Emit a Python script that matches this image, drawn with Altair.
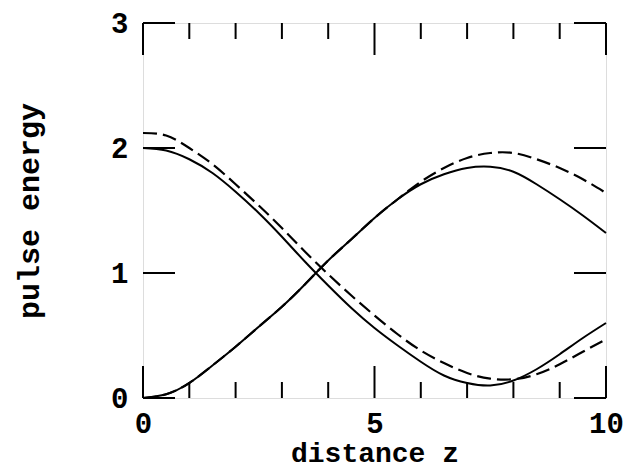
import altair as alt
import pandas as pd

# distance z
z = [0, 0.5, 1, 1.5, 2, 2.5, 3, 3.5, 4, 4.5, 5, 5.5, 6, 6.5, 7, 7.5, 8, 8.5, 9, 9.5, 10]
# solid curves
solid_fall = [2.00, 1.98, 1.91, 1.80, 1.65, 1.48, 1.29, 1.09, 0.90, 0.72, 0.56, 0.42, 0.29, 0.18, 0.12, 0.10, 0.14, 0.23, 0.35, 0.48, 0.60]
solid_rise = [0.00, 0.03, 0.12, 0.26, 0.41, 0.57, 0.73, 0.91, 1.10, 1.27, 1.44, 1.59, 1.71, 1.79, 1.84, 1.85, 1.81, 1.71, 1.59, 1.46, 1.32]
# dashed curves
dash_fall = [2.12, 2.10, 2.00, 1.87, 1.71, 1.54, 1.36, 1.17, 0.99, 0.82, 0.66, 0.51, 0.38, 0.28, 0.20, 0.155, 0.15, 0.19, 0.27, 0.37, 0.47]
dash_rise = [0.00, 0.03, 0.12, 0.26, 0.41, 0.57, 0.73, 0.91, 1.10, 1.27, 1.44, 1.59, 1.73, 1.84, 1.92, 1.96, 1.96, 1.91, 1.84, 1.75, 1.64]

x_major = [0, 5, 10]
x_minor = [1, 2, 3, 4, 6, 7, 8, 9]
y_major = [0, 1, 2, 3]

W, H = 463, 375
FONT = "Liberation Mono"

rows = []
for name, vals, style in [("s1", solid_fall, "solid"), ("s2", solid_rise, "solid"),
                          ("d1", dash_fall, "dashed"), ("d2", dash_rise, "dashed")]:
    for zi, v in zip(z, vals):
        rows.append({"z": zi, "E": v, "series": name, "style": style})
df = pd.DataFrame(rows)

xs = alt.Scale(domain=[0, 10], nice=False, zero=False)
ys = alt.Scale(domain=[0, 3], nice=False, zero=False)

xaxis = alt.Axis(values=x_major, ticks=False, tickSize=0, domain=False, grid=False,
                 labelFlush=False, labelFont=FONT, labelFontSize=29, labelFontWeight="bold",
                 labelColor="black", labelPadding=34, labelBaseline="alphabetic",
                 title="distance z", titleFont=FONT, titleFontSize=28,
                 titleFontWeight="bold", titleColor="black",
                 titleY=63, titleBaseline="alphabetic")
yaxis = alt.Axis(values=y_major, ticks=False, tickSize=0, domain=False, grid=False,
                 labelFlush=False, labelFont=FONT, labelFontSize=29, labelFontWeight="bold",
                 labelColor="black", labelPadding=15,
                 title="pulse energy", titleFont=FONT, titleFontSize=30,
                 titleFontWeight="bold", titleColor="black", titleX=-99,
                 titleY=H / 2, titleBaseline="bottom")

X = lambda f: alt.X(f, scale=xs, axis=xaxis)
Y = lambda f: alt.Y(f, scale=ys, axis=yaxis)

solid = alt.Chart(df[df["style"] == "solid"]).mark_line(
    color="black", strokeWidth=2, interpolate="natural"
).encode(x=X("z:Q"), y=Y("E:Q"), detail="series:N")
dashed = alt.Chart(df[df["style"] == "dashed"]).mark_line(
    color="black", strokeWidth=2.2, strokeDash=[14, 6], interpolate="natural"
).encode(x=X("z:Q"), y=Y("E:Q"), detail="series:N")

xt_major = pd.DataFrame({"t": x_major})
xt_minor = pd.DataFrame({"t": x_minor})
yt = pd.DataFrame({"t": y_major})

def xticks(data, length):
    bot = alt.Chart(data).mark_rule(color="black", strokeWidth=2).encode(
        x=X("t:Q"), y=alt.value(H), y2=alt.value(H - length))
    top = alt.Chart(data).mark_rule(color="black", strokeWidth=2).encode(
        x=X("t:Q"), y=alt.value(0), y2=alt.value(length))
    return [bot, top]

left = alt.Chart(yt).mark_rule(color="black", strokeWidth=2).encode(
    y=Y("t:Q"), x=alt.value(0), x2=alt.value(32))
right = alt.Chart(yt).mark_rule(color="black", strokeWidth=2).encode(
    y=Y("t:Q"), x=alt.value(W), x2=alt.value(W - 32))

chart = alt.layer(
    solid, dashed, *xticks(xt_major, 32), *xticks(xt_minor, 16), left, right
).properties(
    width=W, height=H,
    autosize=alt.AutoSizeParams(type="none"),
    padding={"left": 135, "top": 15, "right": 20, "bottom": 80},
).configure_view(stroke="black", strokeWidth=2).configure(background="white")

chart.save("out.html", embed_options={"renderer": "svg", "actions": False})
